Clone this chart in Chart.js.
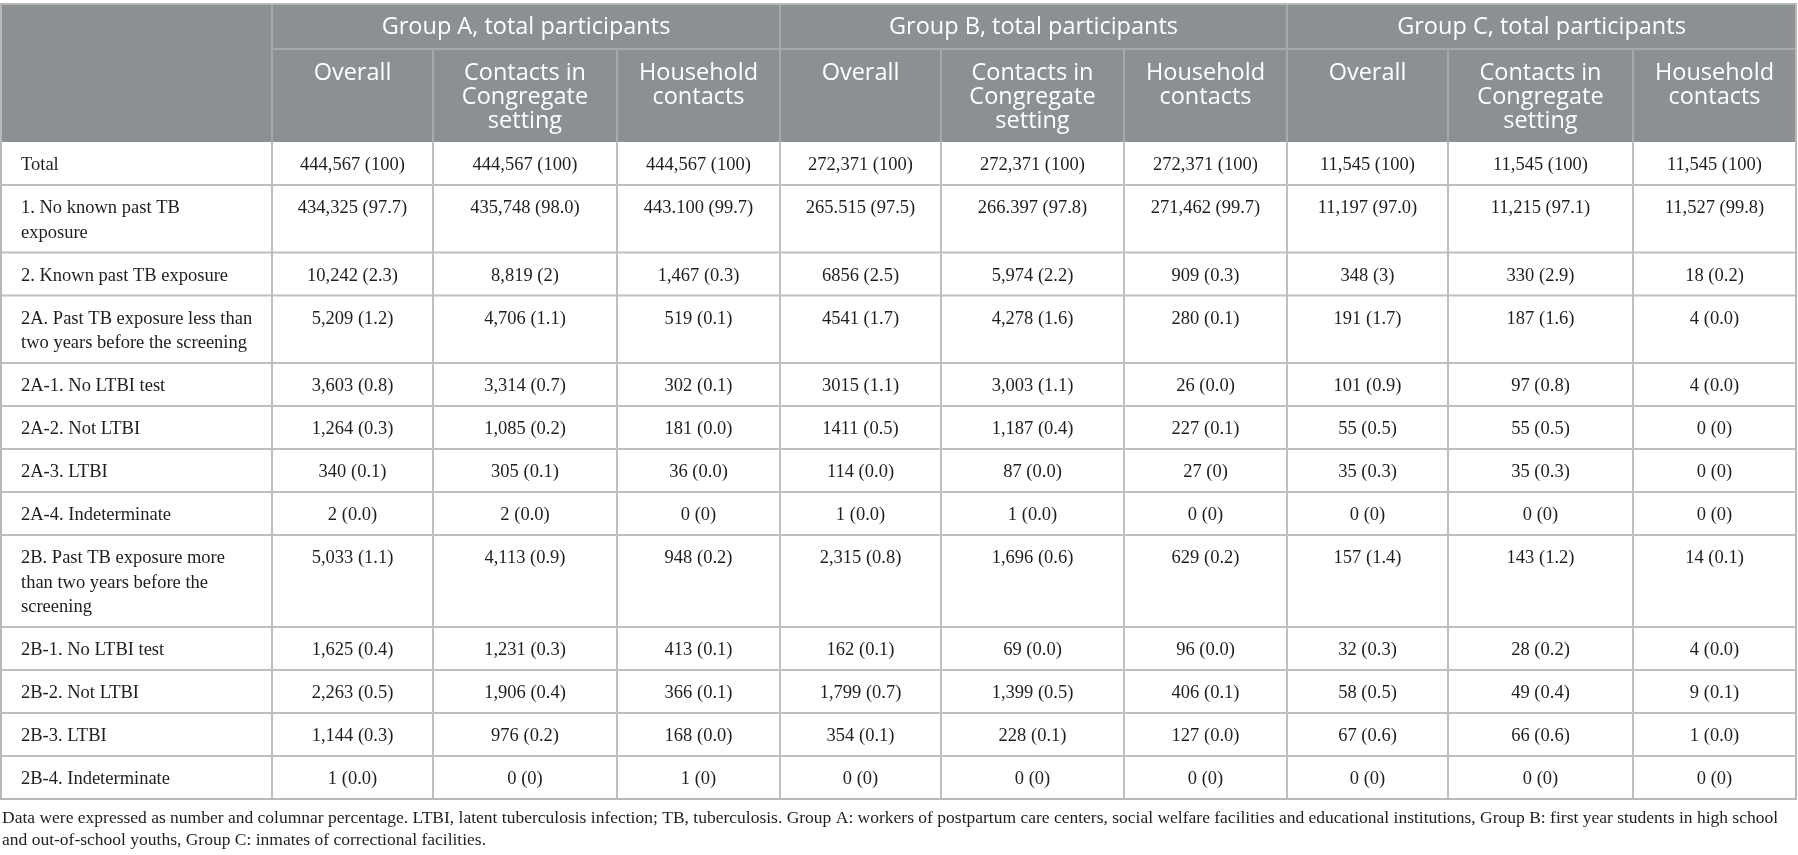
<!DOCTYPE html>
<html>
<head>
<meta charset="utf-8">
<script src="https://cdn.jsdelivr.net/npm/chart.js@4.4.1/dist/chart.umd.min.js"></script>
<style>
html, body { margin: 0; padding: 0; background: #fff; }
#wrap { width: 1798px; height: 855px; }
</style>
</head>
<body>
<div id="wrap"><canvas id="tableChart" width="1798" height="855"></canvas></div>
<script>
// table content
const groupTitles = ['Group A, total participants', 'Group B, total participants', 'Group C, total participants'];
const subColumns = ['Overall', 'Contacts in\nCongregate\nsetting', 'Household\ncontacts'];

const rowLabels = [
  'Total',
  '1. No known past TB\nexposure',
  '2. Known past TB exposure',
  '2A. Past TB exposure less than\ntwo years before the screening',
  '2A-1. No LTBI test',
  '2A-2. Not LTBI',
  '2A-3. LTBI',
  '2A-4. Indeterminate',
  '2B. Past TB exposure more\nthan two years before the\nscreening',
  '2B-1. No LTBI test',
  '2B-2. Not LTBI',
  '2B-3. LTBI',
  '2B-4. Indeterminate'
];

const groupAOverall = ['444,567 (100)', '434,325 (97.7)', '10,242 (2.3)', '5,209 (1.2)', '3,603 (0.8)', '1,264 (0.3)', '340 (0.1)', '2 (0.0)', '5,033 (1.1)', '1,625 (0.4)', '2,263 (0.5)', '1,144 (0.3)', '1 (0.0)'];
const groupACongregate = ['444,567 (100)', '435,748 (98.0)', '8,819 (2)', '4,706 (1.1)', '3,314 (0.7)', '1,085 (0.2)', '305 (0.1)', '2 (0.0)', '4,113 (0.9)', '1,231 (0.3)', '1,906 (0.4)', '976 (0.2)', '0 (0)'];
const groupAHousehold = ['444,567 (100)', '443.100 (99.7)', '1,467 (0.3)', '519 (0.1)', '302 (0.1)', '181 (0.0)', '36 (0.0)', '0 (0)', '948 (0.2)', '413 (0.1)', '366 (0.1)', '168 (0.0)', '1 (0)'];
const groupBOverall = ['272,371 (100)', '265.515 (97.5)', '6856 (2.5)', '4541 (1.7)', '3015 (1.1)', '1411 (0.5)', '114 (0.0)', '1 (0.0)', '2,315 (0.8)', '162 (0.1)', '1,799 (0.7)', '354 (0.1)', '0 (0)'];
const groupBCongregate = ['272,371 (100)', '266.397 (97.8)', '5,974 (2.2)', '4,278 (1.6)', '3,003 (1.1)', '1,187 (0.4)', '87 (0.0)', '1 (0.0)', '1,696 (0.6)', '69 (0.0)', '1,399 (0.5)', '228 (0.1)', '0 (0)'];
const groupBHousehold = ['272,371 (100)', '271,462 (99.7)', '909 (0.3)', '280 (0.1)', '26 (0.0)', '227 (0.1)', '27 (0)', '0 (0)', '629 (0.2)', '96 (0.0)', '406 (0.1)', '127 (0.0)', '0 (0)'];
const groupCOverall = ['11,545 (100)', '11,197 (97.0)', '348 (3)', '191 (1.7)', '101 (0.9)', '55 (0.5)', '35 (0.3)', '0 (0)', '157 (1.4)', '32 (0.3)', '58 (0.5)', '67 (0.6)', '0 (0)'];
const groupCCongregate = ['11,545 (100)', '11,215 (97.1)', '330 (2.9)', '187 (1.6)', '97 (0.8)', '55 (0.5)', '35 (0.3)', '0 (0)', '143 (1.2)', '28 (0.2)', '49 (0.4)', '66 (0.6)', '0 (0)'];
const groupCHousehold = ['11,545 (100)', '11,527 (99.8)', '18 (0.2)', '4 (0.0)', '4 (0.0)', '0 (0)', '0 (0)', '0 (0)', '14 (0.1)', '4 (0.0)', '9 (0.1)', '1 (0.0)', '0 (0)'];

const footnote = [
  'Data were expressed as number and columnar percentage. LTBI, latent tuberculosis infection; TB, tuberculosis. Group A: workers of postpartum care centers, social welfare facilities and educational institutions, Group B: first year students in high school',
  'and out-of-school youths, Group C: inmates of correctional facilities.'
];

const valueColumns = [
  groupAOverall, groupACongregate, groupAHousehold,
  groupBOverall, groupBCongregate, groupBHousehold,
  groupCOverall, groupCCongregate, groupCHousehold
];

// layout (scale units)
const colWidths = [271, 161, 184, 163, 161, 183, 163, 161, 185, 163];
const tableLeft = 1;
const headerTop = 4;
const groupRowBottom = 49;
const headerBottom = 142;
const rowBase = 43;
const lineStep = 24.5;

const colEdges = [tableLeft];
colWidths.forEach(w => colEdges.push(colEdges[colEdges.length - 1] + w));
const rowEdges = [headerBottom];
rowLabels.forEach(l => {
  const n = l.split('\n').length;
  rowEdges.push(rowEdges[rowEdges.length - 1] + rowBase + (n - 1) * lineStep);
});

const headerBg = '#8b9093';
const headerLine = '#a5aaad';
const bodyLine = '#bfbfbf';
const textColor = '#1e1e1e';
const serif = '"Liberation Serif", "Times New Roman", serif';
const sans = '"Open Sans", "Noto Sans", sans-serif';

const tablePlugin = {
  id: 'tablePlugin',
  afterDraw(chart) {
    const ctx = chart.ctx;
    const xs = chart.scales.x, ys = chart.scales.y;
    const px = v => xs.getPixelForValue(v);
    const py = v => ys.getPixelForValue(v);
    const left = px(colEdges[0]), right = px(colEdges[colEdges.length - 1]);

    ctx.save();
    // header background
    ctx.fillStyle = headerBg;
    ctx.fillRect(left, py(headerTop), right - left, py(headerBottom) - py(headerTop));

    const line = (x1, y1, x2, y2, color) => {
      ctx.strokeStyle = color;
      ctx.lineWidth = 2;
      ctx.beginPath();
      ctx.moveTo(x1, y1);
      ctx.lineTo(x2, y2);
      ctx.stroke();
    };

    // header lines
    line(px(colEdges[1]), py(groupRowBottom), right, py(groupRowBottom), headerLine);
    colEdges.slice(1, -1).forEach((e, i) => {
      const isGroupEdge = i % 3 === 0;
      line(px(e), py(isGroupEdge ? headerTop : groupRowBottom), px(e), py(headerBottom), headerLine);
    });

    // body lines
    rowEdges.slice(1, -1).forEach(e => line(left, py(e), right, py(e), bodyLine));
    colEdges.slice(1, -1).forEach(e => line(px(e), py(headerBottom), px(e), py(rowEdges[rowEdges.length - 1]), bodyLine));

    // outer border
    ctx.strokeStyle = '#b8b8b8';
    ctx.lineWidth = 2;
    ctx.strokeRect(left, py(headerTop), right - left, py(rowEdges[rowEdges.length - 1]) - py(headerTop));

    // header text
    ctx.fillStyle = '#ffffff';
    ctx.textAlign = 'center';
    ctx.textBaseline = 'middle';
    ctx.font = '23.5px ' + sans;
    groupTitles.forEach((t, g) => {
      const cx = (px(colEdges[1 + g * 3]) + px(colEdges[4 + g * 3])) / 2;
      ctx.fillText(t, cx, py(27));
    });
    for (let c = 0; c < 9; c++) {
      const cx = (px(colEdges[c + 1]) + px(colEdges[c + 2])) / 2;
      subColumns[c % 3].split('\n').forEach((s, k) => {
        ctx.fillText(s, cx, py(73 + k * 24));
      });
    }

    // body text
    ctx.fillStyle = textColor;
    ctx.font = '18.5px ' + serif;
    rowLabels.forEach((label, r) => {
      const top = rowEdges[r];
      ctx.textAlign = 'left';
      label.split('\n').forEach((s, k) => {
        ctx.fillText(s, px(colEdges[0] + 20), py(top + 23.5 + k * lineStep));
      });
      ctx.textAlign = 'center';
      valueColumns.forEach((col, c) => {
        const cx = (px(colEdges[c + 1]) + px(colEdges[c + 2])) / 2;
        ctx.fillText(col[r], cx, py(top + 23.5));
      });
    });

    // footnote
    ctx.textAlign = 'left';
    ctx.font = '17.5px ' + serif;
    footnote.forEach((s, k) => {
      ctx.fillText(s, px(2), py(818 + k * 22), right - px(2));
    });
    ctx.restore();
  }
};

new Chart(document.getElementById('tableChart'), {
  type: 'scatter',
  data: { datasets: [] },
  options: {
    responsive: false,
    animation: false,
    layout: { padding: 0 },
    scales: {
      x: { type: 'linear', min: 0, max: 1798, display: false },
      y: { type: 'linear', min: 0, max: 855, reverse: true, display: false }
    },
    plugins: {
      legend: { display: false },
      tooltip: { enabled: false }
    }
  },
  plugins: [tablePlugin]
});
</script>
</body>
</html>
